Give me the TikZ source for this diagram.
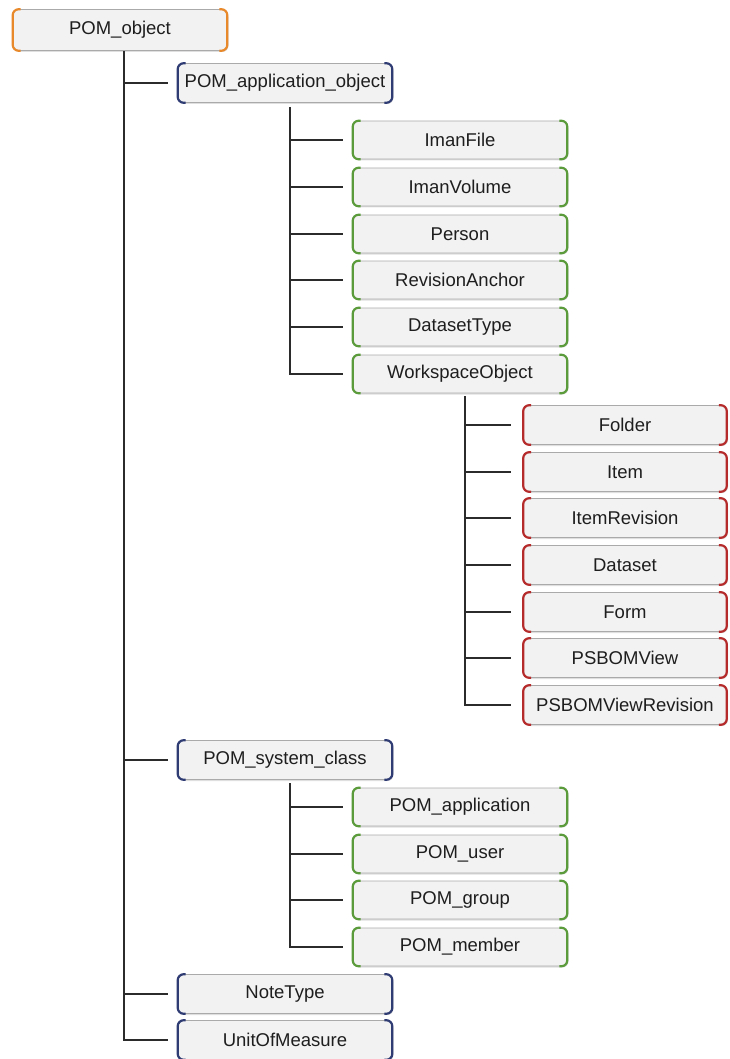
\documentclass[tikz,border=0pt]{standalone}
\usepackage{fontspec}
\setmainfont{Liberation Sans}
\usetikzlibrary{shadows}
\definecolor{cOrange}{HTML}{E8892B}
\definecolor{cBlue}{HTML}{2F3B73}
\definecolor{cGreen}{HTML}{5B9B3C}
\definecolor{cRed}{HTML}{B52B2B}
\definecolor{boxfill}{HTML}{F2F2F2}
\definecolor{boxedge}{HTML}{AAAAAA}
\definecolor{linkc}{HTML}{2B2B2B}
\definecolor{txt}{HTML}{1E1E1E}
\begin{document}
\begin{tikzpicture}[x=1pt,y=-1pt,
  cls/.style={draw=boxedge, line width=0.6pt, fill=boxfill, rounded corners=6pt,
    inner sep=0pt, minimum height=39pt, text=txt,
    font=\fontsize{18.5}{20}\selectfont,
    drop shadow={shadow xshift=1.5pt, shadow yshift=-1.5pt, opacity=0.25, fill=gray}},
  topbox/.style={cls, minimum width=214pt, minimum height=41pt},
  bluebox/.style={cls, minimum width=214pt},
  greenbox/.style={cls, minimum width=214pt, minimum height=38pt},
  redbox/.style={cls, minimum width=203pt, minimum height=39pt},
  link/.style={draw=linkc, line width=2pt},
  side/.style={line width=2.2pt, rounded corners=6pt, draw=#1},
]
\useasboundingbox (0,0) rectangle (729,1059);

% nodes
\node[topbox] (obj) at (120,30) {POM\_object};
\node[bluebox] (pao) at (285,83) {POM\_application\_object};

\node[greenbox] (g1) at (460,140) {ImanFile};
\node[greenbox] (g2) at (460,187) {ImanVolume};
\node[greenbox] (g3) at (460,234) {Person};
\node[greenbox] (g4) at (460,280) {RevisionAnchor};
\node[greenbox] (g5) at (460,327) {DatasetType};
\node[greenbox] (g6) at (460,374) {WorkspaceObject};

\node[redbox] (r1) at (625,425) {Folder};
\node[redbox] (r2) at (625,472) {Item};
\node[redbox] (r3) at (625,518) {ItemRevision};
\node[redbox] (r4) at (625,565) {Dataset};
\node[redbox] (r5) at (625,612) {Form};
\node[redbox] (r6) at (625,658) {PSBOMView};
\node[redbox] (r7) at (625,705) {PSBOMViewRevision};

\node[bluebox] (psc) at (285,760) {POM\_system\_class};
\node[greenbox] (s1) at (460,807) {POM\_application};
\node[greenbox] (s2) at (460,854) {POM\_user};
\node[greenbox] (s3) at (460,900) {POM\_group};
\node[greenbox] (s4) at (460,947) {POM\_member};

\node[bluebox] (nt) at (285,994) {NoteType};
\node[bluebox] (uom) at (285,1040) {UnitOfMeasure};

% coloured sides
\foreach \n/\c in {obj/cOrange,pao/cBlue,psc/cBlue,nt/cBlue,uom/cBlue,
  g1/cGreen,g2/cGreen,g3/cGreen,g4/cGreen,g5/cGreen,g6/cGreen,
  s1/cGreen,s2/cGreen,s3/cGreen,s4/cGreen,
  r1/cRed,r2/cRed,r3/cRed,r4/cRed,r5/cRed,r6/cRed,r7/cRed}{
  \draw[side=\c] ([xshift=8pt]\n.north west) -- (\n.north west) -- (\n.south west) -- ([xshift=8pt]\n.south west);
  \draw[side=\c] ([xshift=-8pt]\n.north east) -- (\n.north east) -- (\n.south east) -- ([xshift=-8pt]\n.south east);
}

% trunks
\coordinate (t0) at (124,51);
\coordinate (t1) at (290,107);
\coordinate (t2) at (465,396);
\coordinate (t3) at (290,783);

\draw[link] (t0) |- ([xshift=-10pt]uom.west);
\foreach \n in {pao,psc,nt}
  \draw[link] (t0 |- \n.west) -- ([xshift=-10pt]\n.west);

\draw[link] (t1) |- ([xshift=-10pt]g6.west);
\foreach \n in {g1,g2,g3,g4,g5}
  \draw[link] (t1 |- \n.west) -- ([xshift=-10pt]\n.west);

\draw[link] (t2) |- ([xshift=-12pt]r7.west);
\foreach \n in {r1,r2,r3,r4,r5,r6}
  \draw[link] (t2 |- \n.west) -- ([xshift=-12pt]\n.west);

\draw[link] (t3) |- ([xshift=-10pt]s4.west);
\foreach \n in {s1,s2,s3}
  \draw[link] (t3 |- \n.west) -- ([xshift=-10pt]\n.west);
\end{tikzpicture}
\end{document}
